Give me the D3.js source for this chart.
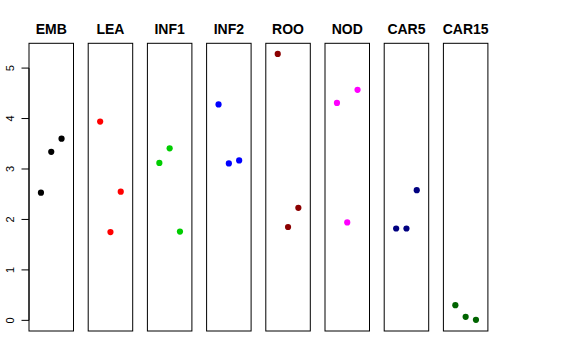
<!DOCTYPE html>
<html>
<head>
<meta charset="utf-8">
<script src="https://cdn.jsdelivr.net/npm/d3@7"></script>
<style>
  body { margin: 0; background: #fff; }
  text { font-family: "Liberation Sans", Arial, Helvetica, sans-serif; }
</style>
</head>
<body>
<div id="vis"></div>
<script>
// ----- DATA ----- //
const groups = ["EMB", "LEA", "INF1", "INF2", "ROO", "NOD", "CAR5", "CAR15"];
const colors = ["#000000", "#FF0000", "#00CD00", "#0000FF", "#8B0000", "#FF00FF", "#000080", "#006400"];
const rep = [1, 2, 3];
const values = [
  [2.53, 3.34, 3.60],
  [3.94, 1.75, 2.55],
  [3.12, 3.41, 1.76],
  [4.28, 3.11, 3.17],
  [5.28, 1.85, 2.23],
  [4.31, 1.94, 4.57],
  [1.82, 1.82, 2.58],
  [0.30, 0.07, 0.01],
];
const yTicks = [0, 1, 2, 3, 4, 5];

// ----- LAYOUT ----- //
const width = 576, height = 360;
const panelLeft = 29, panelStep = 59.2, panelWidth = 44.5;
const panelTop = 43.3, panelBottom = 331;

const svg = d3.select("#vis")
  .append("svg")
  .attr("width", width)
  .attr("height", height);

// y range padded 4% like R
const yMin = 0, yMax = 5.28, pad = (yMax - yMin) * 0.04;
let y = d3.scaleLinear()
  .domain([yMin - pad, yMax + pad])
  .range([panelBottom, panelTop]);

let x = d3.scaleLinear()
  .domain([-0.16, 4.16])
  .range([0, panelWidth]);

// ----- Y AXIS ----- //
let yAxis = svg.append("g");
yAxis.append("line")
  .attr("x1", panelLeft).attr("x2", panelLeft)
  .attr("y1", y(0)).attr("y2", y(5))
  .attr("stroke", "#000");
yAxis.selectAll("tick")
  .data(yTicks)
  .join("line")
  .attr("x1", panelLeft - 7.5).attr("x2", panelLeft)
  .attr("y1", d => y(d)).attr("y2", d => y(d))
  .attr("stroke", "#000");
yAxis.selectAll("ticklabel")
  .data(yTicks)
  .join("text")
  .attr("transform", d => `translate(13.5,${y(d)}) rotate(-90)`)
  .attr("text-anchor", "middle")
  .attr("font-size", 11)
  .text(d => d);

// ----- PANELS ----- //
groups.forEach((g, i) => {
  let px = panelLeft + i * panelStep;
  let panel = svg.append("g").attr("transform", `translate(${px},0)`);

  panel.append("text")
    .attr("x", panelWidth / 2)
    .attr("y", 34)
    .attr("text-anchor", "middle")
    .attr("font-size", 14)
    .attr("font-weight", "bold")
    .text(g);

  panel.selectAll("pts")
    .data(values[i])
    .join("circle")
    .attr("cx", (d, j) => x(rep[j]))
    .attr("cy", d => y(d))
    .attr("r", 3.1)
    .attr("fill", colors[i]);

  panel.append("rect")
    .attr("x", 0)
    .attr("y", panelTop)
    .attr("width", panelWidth)
    .attr("height", panelBottom - panelTop)
    .attr("fill", "none")
    .attr("stroke", "#000");
});
</script>
</body>
</html>
